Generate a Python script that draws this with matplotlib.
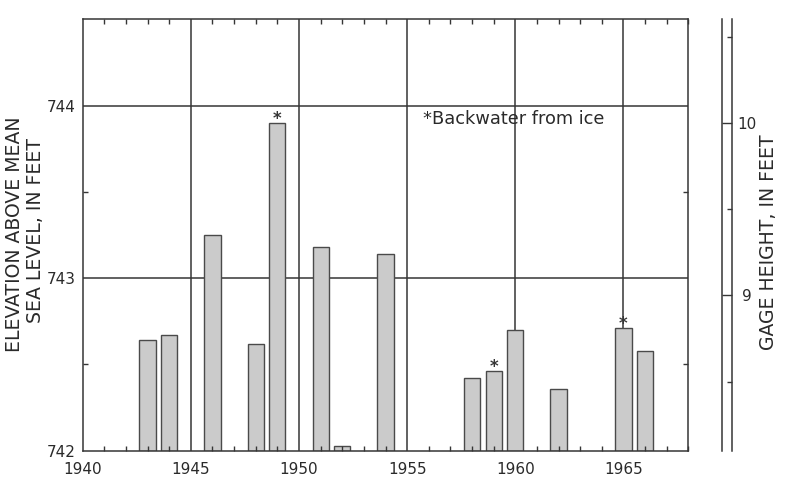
import numpy as np
import matplotlib
matplotlib.use("Agg")
import matplotlib.pyplot as plt
from matplotlib.ticker import MultipleLocator, FixedLocator

# annual peak stage, elevation above mean sea level (feet)
years = [1943, 1944, 1946, 1948, 1949, 1951, 1952, 1954,
         1958, 1959, 1960, 1962, 1965, 1966]
elevation = [742.64, 742.67, 743.25, 742.62, 743.90, 743.18, 742.03, 743.14,
             742.42, 742.46, 742.70, 742.36, 742.71, 742.58]
ice_years = [1949, 1959, 1965]          # peaks affected by backwater from ice
x_labels = [1940, 1945, 1950, 1955, 1960, 1965]
y_labels = [742, 743, 744]
gage_labels = [9, 10]
gage_datum = 733.9                      # gage height = elevation - datum

ink = "#363636"
base = 742.0

plt.rcParams["font.family"] = ["DejaVu Sans"]

fig = plt.figure(figsize=(7.87, 4.83), dpi=100)
ax = fig.add_axes([0.1051, 0.0669, 0.7695, 0.8931])

# grid lines sit under the bars
for x in x_labels[1:]:
    ax.axvline(x, color=ink, lw=1.1, zorder=0.5)
for y in y_labels[1:]:
    ax.axhline(y, color=ink, lw=1.1, zorder=0.5)

heights = [e - base for e in elevation]
ax.bar(years, heights, bottom=base, width=0.75, color="#cbcbcb",
       edgecolor="#4a4a4a", linewidth=1.0, zorder=1)

for yr, el in zip(years, elevation):
    if yr in ice_years:
        ax.annotate("*", (yr, el), xytext=(0, -0.8), textcoords="offset points",
                    ha="center", va="baseline", fontsize=12, color=ink,
                    fontweight="bold")

ax.text(1955.72, 743.92, "*Backwater from ice", fontsize=12.8, color="#2a2a2a",
        ha="left", va="center")

ax.set_xlim(1940, 1968)
ax.set_ylim(742, 744.5)

ax.xaxis.set_major_locator(FixedLocator(x_labels))
ax.xaxis.set_minor_locator(MultipleLocator(1))
ax.yaxis.set_major_locator(FixedLocator(y_labels))
ax.yaxis.set_minor_locator(FixedLocator([742.5, 743.5]))

ax.tick_params(which="major", length=0, labelsize=11, labelcolor="#2a2a2a")
ax.tick_params(axis="x", which="major", pad=8)
ax.tick_params(axis="y", which="major", pad=5)
ax.tick_params(which="minor", direction="in", length=3.8, width=1.0,
               color=ink, top=True, right=True)

for s in ax.spines.values():
    s.set_color(ink)
    s.set_linewidth(1.1)

fig.text(0.0178, 0.515, "ELEVATION ABOVE MEAN", rotation=90, fontsize=13.6,
         ha="center", va="center", color="#2a2a2a")
fig.text(0.0445, 0.523, "SEA LEVEL, IN FEET", rotation=90, fontsize=13.6,
         ha="center", va="center", color="#2a2a2a")

# gage height scale drawn as a narrow double-ruled strip
gx = fig.add_axes([0.9178, 0.0669, 0.0119, 0.8931])
gx.set_ylim(base - gage_datum, 744.5 - gage_datum)
gx.set_xticks([])
gx.spines["top"].set_visible(False)
gx.spines["bottom"].set_visible(False)
for side in ("left", "right"):
    gx.spines[side].set_color(ink)
    gx.spines[side].set_linewidth(1.1)
gx.yaxis.tick_right()
gx.yaxis.set_major_locator(FixedLocator(gage_labels))
gx.yaxis.set_minor_locator(FixedLocator([8.5, 9.5, 10.5]))
gx.tick_params(axis="y", which="major", direction="in", length=7.0, width=1.0,
               color=ink, pad=11, labelsize=11, labelcolor="#2a2a2a")
gx.tick_params(axis="y", which="minor", direction="in", length=3.6, width=1.0,
               color=ink)
for lab in gx.get_yticklabels():
    lab.set_horizontalalignment("center")
gx.patch.set_alpha(0)

fig.text(0.976, 0.498, "GAGE HEIGHT, IN FEET", rotation=90, fontsize=13.6,
         ha="center", va="center", color="#2a2a2a")

fig.savefig("out.png", dpi=100)
